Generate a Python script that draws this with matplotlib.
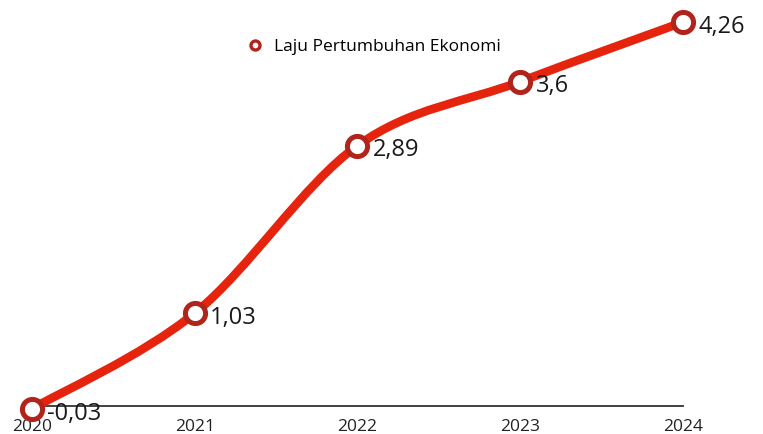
import numpy as np
import matplotlib.pyplot as plt
from matplotlib.path import Path
from matplotlib.patches import PathPatch
from matplotlib.lines import Line2D

years = [2020, 2021, 2022, 2023, 2024]
growth = [-0.03, 1.03, 2.89, 3.6, 4.26]
value_labels = ['-0,03', '1,03', '2,89', '3,6', '4,26']
series_name = 'Laju Pertumbuhan Ekonomi'

LINE_RED = '#e6240e'
EDGE_RED = '#b0241b'
FONT = 'Open Sans'


def smooth_path(xs, ys, tension=0.5):
    # Catmull-Rom converted to cubic Bezier segments
    xs = np.asarray(xs, dtype=float)
    ys = np.asarray(ys, dtype=float)
    pts = np.column_stack([xs, ys])
    verts = [pts[0]]
    codes = [Path.MOVETO]
    n = len(pts)
    for i in range(n - 1):
        p0 = pts[i - 1] if i > 0 else pts[i]
        p1 = pts[i]
        p2 = pts[i + 1]
        p3 = pts[i + 2] if i + 2 < n else pts[i + 1]
        c1 = p1 + (p2 - p0) * tension / 3
        c2 = p2 - (p3 - p1) * tension / 3
        verts += [c1, c2, p2]
        codes += [Path.CURVE4] * 3
    return Path(verts, codes)


fig = plt.figure(figsize=(7.63, 4.34), dpi=100)
ax = fig.add_axes([0, 0, 1, 1])
ax.set_xlim(2019.803, 2024.492)
ax.set_ylim(-0.311, 4.506)

ax.add_patch(PathPatch(smooth_path(years, growth), facecolor='none',
                       edgecolor=LINE_RED, linewidth=6.2, capstyle='round',
                       joinstyle='round', zorder=2))
ax.plot(years, growth, linestyle='none', marker='o', markersize=14.5,
        markerfacecolor='white', markeredgecolor=EDGE_RED,
        markeredgewidth=3.6, zorder=3)

for x, y, lab in zip(years, growth, value_labels):
    ax.annotate(lab, (x, y), xytext=(11, -3.5), textcoords='offset points',
                ha='left', va='center', fontsize=17, family=FONT,
                color='#1a1a1a', zorder=4)

# baseline with year labels
for side in ['top', 'right', 'left']:
    ax.spines[side].set_visible(False)
ax.spines['bottom'].set_position(('data', 0))
ax.spines['bottom'].set_bounds(2019.94, 2024.0)
ax.spines['bottom'].set_color('#333333')
ax.spines['bottom'].set_linewidth(1.3)
ax.spines['bottom'].set_zorder(1)
ax.set_xticks(years)
ax.set_xticklabels([str(y) for y in years], fontsize=12.5, family=FONT,
                   color='#222222')
ax.tick_params(axis='x', length=0, pad=9.5)
ax.set_yticks([])
ax.patch.set_alpha(0)

handle = Line2D([], [], linestyle='none', marker='o', markersize=6.5,
                markerfacecolor='white', markeredgecolor=EDGE_RED,
                markeredgewidth=2.4)
fig.legend([handle], [series_name], loc='center',
           bbox_to_anchor=(0.49, 0.892), frameon=False, handlelength=1,
           handletextpad=0.6, prop={'family': FONT, 'size': 12.5})

fig.savefig('out.png', dpi=100)
